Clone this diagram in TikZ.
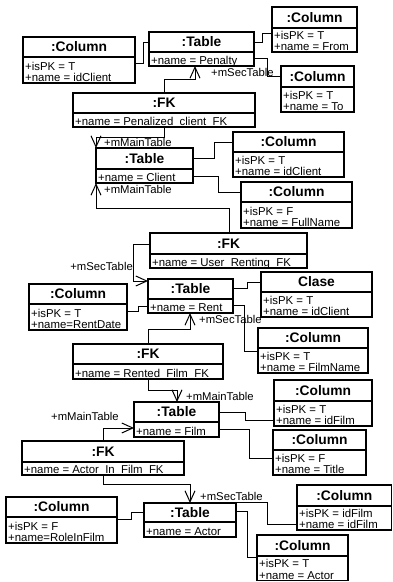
\documentclass[tikz,border=0pt]{standalone}
\usepackage{fontspec}
\setmainfont{Liberation Sans}
\usetikzlibrary{arrows.meta}
\tikzset{
  objbox/.style={draw, line width=1.2pt, inner sep=0pt, outer sep=0pt, fill=white},
  ttl/.style={font=\fontsize{13.8}{16}\selectfont\bfseries, inner sep=0pt},
  attr/.style={font=\fontsize{11.4}{13}\selectfont, inner sep=0pt, anchor=base west},
  lbl/.style={font=\fontsize{11.3}{13}\selectfont, inner sep=0pt, anchor=base west},
  conn/.style={line width=1pt},
  assoc/.style={line width=1pt, -{Straight Barb[length=11pt,width=10pt,line width=1pt]}}
}
% name, x1, y1, x2, ysplit, y2, title, attr1, attr2
\newcommand{\objTwo}[9]{%
  \node[objbox, anchor=north west, minimum width={(#4)-(#2)}, minimum height={(#6)-(#3)}] (#1) at (#2,#3) {};
  \draw[line width=1.2pt] (#2,#5) -- (#4,#5);
  \node[ttl] (#1-t) at ({(#2+#4)/2},{(#3+#5)/2}) {#7};
  \node[attr] (#1-a) at ({#2+2},{#6-13}) {#8};
  \node[attr] (#1-b) at ({#2+2},{#6-1.5}) {#9};
}
% name, x1, y1, x2, ysplit, y2, title, attr
\newcommand{\objOne}[8]{%
  \node[objbox, anchor=north west, minimum width={(#4)-(#2)}, minimum height={(#6)-(#3)}] (#1) at (#2,#3) {};
  \draw[line width=1.2pt] (#2,#5) -- (#4,#5);
  \node[ttl] (#1-t) at ({(#2+#4)/2},{(#3+#5)/2}) {#7};
  \node[attr] (#1-a) at ({#2+2},{#6-2}) {#8};
}
\begin{document}
\begin{tikzpicture}[x=1pt,y=-1pt]
\useasboundingbox (0,0) rectangle (393,582);
% boxes
\objTwo{colA}{23}{37}{135}{57}{83}{:Column}{+isPK = T}{+name = idClient}
\objOne{tPen}{149}{32}{254}{52}{66}{:Table}{+name = Penalty}
\objTwo{colFrom}{272}{7}{357}{28}{52}{:Column}{+isPK = T}{+name = From}
\objTwo{colTo}{281}{66}{354}{87}{112}{:Column}{+isPK = T}{+name = To}
\objOne{fkPen}{73}{93}{255}{113}{127}{:FK}{+name = Penalized\_client\_FK}
\objOne{tCli}{96}{148}{193}{169}{183}{:Table}{+name = Client}
\objTwo{colIdC}{233}{132}{344}{152}{177}{:Column}{+isPK = T}{+name = idClient}
\objTwo{colFull}{241}{182}{352}{202}{228}{:Column}{+isPK = F}{+name = FullName}
\objOne{fkUR}{150}{233}{307}{254}{268}{:FK}{+name = User\_Renting\_FK}
\objOne{tRent}{148}{279}{233}{299}{313}{:Table}{+name = Rent}
\objTwo{clase}{261}{272}{372}{292}{317}{Clase}{+isPK = T}{+name = idClient}
\objTwo{colRD}{29}{284}{127}{304}{330}{:Column}{+isPK = T}{+name=RentDate}
\objTwo{colFN}{258}{328}{368}{348}{373}{:Column}{+isPK = T}{+name = FilmName}
\objOne{fkRF}{73}{344}{223}{364}{379}{:FK}{+name = Rented\_Film\_FK}
\objOne{tFilm}{134}{402}{219}{422}{437}{:Table}{+name = Film}
\objTwo{colIdF}{274}{380}{372}{401}{426}{:Column}{+isPK = T}{+name = idFilm}
\objTwo{colTitle}{273}{430}{366}{450}{475}{:Column}{+isPK = F}{+name = Title}
\objOne{fkAF}{22}{441}{184}{462}{475}{:FK}{+name = Actor\_In\_Film\_FK}
\objTwo{colRole}{6}{497}{117}{517}{543}{:Column}{+isPK = F}{+name=RoleInFilm}
\objOne{tActor}{144}{503}{236}{522}{537}{:Table}{+name = Actor}
\objTwo{colIdF2}{297}{485}{391.5}{506}{530}{:Column}{+isPK = idFilm}{+name = idFilm}
\objTwo{colAct}{257}{535}{348}{556}{580.5}{:Column}{+isPK = T}{+name = Actor}
% connectors
\draw[conn] (colA.east |- 0,63) -- (143,63) |- (tPen.west |- 0,42);
\draw[conn] (tPen.east |- 0,42) -- (262,42) |- (colFrom.west |- 0,33);
\draw[conn] (tPen.east |- 0,58) -- (267,58) |- (colTo.west |- 0,76);
\draw[assoc] (fkPen.north -| 164,0) |- (195,79) -- (tPen.south -| 195,0);
\node[lbl] (l1) at (211,76) {+mSecTable};
\draw[assoc] (fkPen.south -| 164,0) |- (96,137) -- (tCli.north west);
\node[lbl] (l2) at (104,146) {+mMainTable};
\draw[conn] (tCli.east |- 0,158) -- (214,158) |- (colIdC.west |- 0,142);
\draw[conn] (tCli.east |- 0,176) -- (218,176) |- (colFull.west |- 0,192);
\draw[assoc] (fkUR.north -| 229,0) |- (96,208) -- (tCli.south west);
\node[lbl] (l3) at (104,193) {+mMainTable};
\draw[assoc] (fkUR.west |- 0,244) -- (133,244) |- (tRent.west |- 0,281);
\node[lbl, anchor=base east] (l4) at (133,270) {+mSecTable};
\draw[conn] (tRent.east |- 0,288) -- (247,288) |- (clase.west |- 0,282);
\draw[conn] (tRent.east |- 0,305) -- (244,305) |- (colFN.west |- 0,351);
\draw[conn] (colRD.east |- 0,311) -- (138,311) |- (tRent.west |- 0,306);
\draw[assoc] (fkRF.north -| 148,0) |- (190,329) -- (tRent.south -| 190,0);
\node[lbl] (l5) at (199,323) {+mSecTable};
\draw[assoc] (fkRF.south -| 148,0) |- (177,390) -- (tFilm.north -| 177,0);
\node[lbl] (l6) at (186,400) {+mMainTable};
\draw[conn] (tFilm.east |- 0,412) -- (245,412) |- (colIdF.west |- 0,420);
\draw[conn] (tFilm.east |- 0,429) -- (249,429) |- (colTitle.west |- 0,458);
\draw[assoc] (fkAF.north -| 103,0) |- (tFilm.west |- 0,428);
\node[lbl] (l7) at (51,420) {+mMainTable};
\draw[assoc] (fkAF.south -| 103,0) |- (190,484) -- (tActor.north -| 190,0);
\node[lbl] (l8) at (200,500) {+mSecTable};
\draw[conn] (colRole.east |- 0,519) -- (131,519) |- (tActor.west |- 0,512);
\draw[conn] (tActor.east |- 0,502) -- (267,502) |- (colIdF2.west |- 0,524);
\draw[conn] (tActor.east |- 0,511) -- (247,511) |- (colAct.west |- 0,557);
\end{tikzpicture}
\end{document}
